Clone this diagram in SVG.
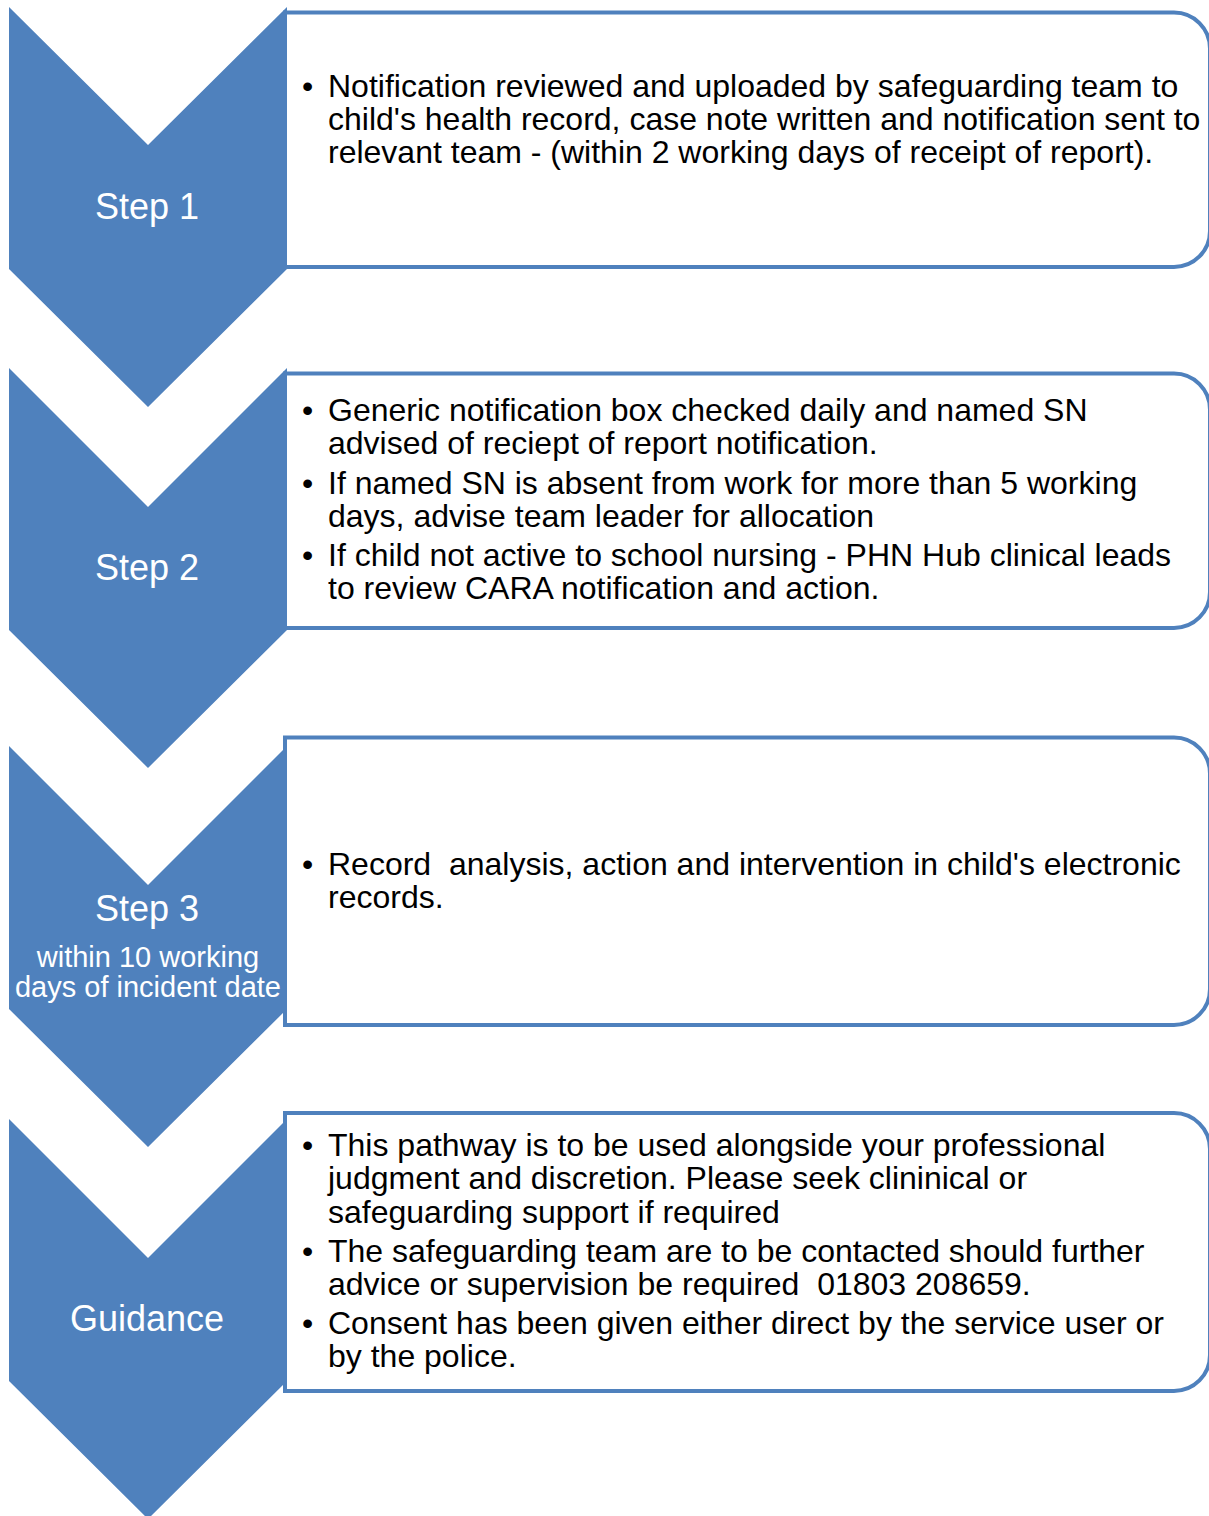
<svg xmlns="http://www.w3.org/2000/svg" width="1209" height="1516" viewBox="0 0 1209 1516">
<style>
.chev{fill:#4F81BD}
.box{fill:#FFFFFF;stroke:#4F81BD;stroke-width:4}
.lbl{font-family:"Liberation Sans",Arial,sans-serif;font-size:36px;fill:#FFFFFF;text-anchor:middle}
.sub{font-family:"Liberation Sans",Arial,sans-serif;font-size:29px;fill:#FFFFFF;text-anchor:middle}
.txt{font-family:"Liberation Sans",Arial,sans-serif;font-size:32px;fill:#000000}
</style>
<rect width="1209" height="1516" fill="#FFFFFF"/>
<g id="step1">
<polygon class="chev" points="9,7 148,145 287,7 287,269 148,407 9,269"/>
<path class="box" d="M285,12.5 H1174 A36,36 0 0 1 1210,48.5 V231 A36,36 0 0 1 1174,267 H285 Z"/>
<text class="lbl" x="147" y="219">Step 1</text>
<text class="txt"><tspan x="302" y="97">•</tspan><tspan x="328" y="97">Notification reviewed and uploaded by safeguarding team to</tspan><tspan x="328" y="130">child's health record, case note written and notification sent to</tspan><tspan x="328" y="163">relevant team - (within 2 working days of receipt of report).</tspan></text>
</g>
<g id="step2">
<polygon class="chev" points="9,368 148,507 287,368 287,630 148,768 9,630"/>
<path class="box" d="M285,373.5 H1174 A36,36 0 0 1 1210,409.5 V592 A36,36 0 0 1 1174,628 H285 Z"/>
<text class="lbl" x="147" y="580">Step 2</text>
<text class="txt"><tspan x="302" y="421">•</tspan><tspan x="328" y="421">Generic notification box checked daily and named SN</tspan><tspan x="328" y="454">advised of reciept of report notification.</tspan><tspan x="302" y="494">•</tspan><tspan x="328" y="494">If named SN is absent from work for more than 5 working</tspan><tspan x="328" y="527">days, advise team leader for allocation</tspan><tspan x="302" y="566">•</tspan><tspan x="328" y="566">If child not active to school nursing - PHN Hub clinical leads</tspan><tspan x="328" y="599">to review CARA notification and action.</tspan></text>
</g>
<g id="step3">
<polygon class="chev" points="9,746 148,885 287,746 287,1009 148,1147 9,1009"/>
<path class="box" d="M285,737.5 H1174 A36,36 0 0 1 1210,773.5 V989 A36,36 0 0 1 1174,1025 H285 Z"/>
<text class="lbl" x="147" y="921">Step 3</text>
<text class="sub"><tspan x="148" y="967">within 10 working</tspan><tspan x="148" y="997">days of incident date</tspan></text>
<text class="txt"><tspan x="302" y="875">•</tspan><tspan x="328" y="875">Record &#160;analysis, action and intervention in child's electronic</tspan><tspan x="328" y="908">records.</tspan></text>
</g>
<g id="guidance">
<polygon class="chev" points="9,1119 148,1258 287,1119 287,1381 148,1519 9,1381"/>
<path class="box" d="M285,1113 H1174 A36,36 0 0 1 1210,1149 V1355 A36,36 0 0 1 1174,1391 H285 Z"/>
<text class="lbl" x="147" y="1331">Guidance</text>
<text class="txt"><tspan x="302" y="1156">•</tspan><tspan x="328" y="1156">This pathway is to be used alongside your professional</tspan><tspan x="328" y="1189">judgment and discretion. Please seek clininical or</tspan><tspan x="328" y="1223">safeguarding support if required</tspan><tspan x="302" y="1262">•</tspan><tspan x="328" y="1262">The safeguarding team are to be contacted should further</tspan><tspan x="328" y="1295">advice or supervision be required &#160;01803 208659.</tspan><tspan x="302" y="1334">•</tspan><tspan x="328" y="1334">Consent has been given either direct by the service user or</tspan><tspan x="328" y="1367">by the police.</tspan></text>
</g>
<g id="connectors"></g>
</svg>
